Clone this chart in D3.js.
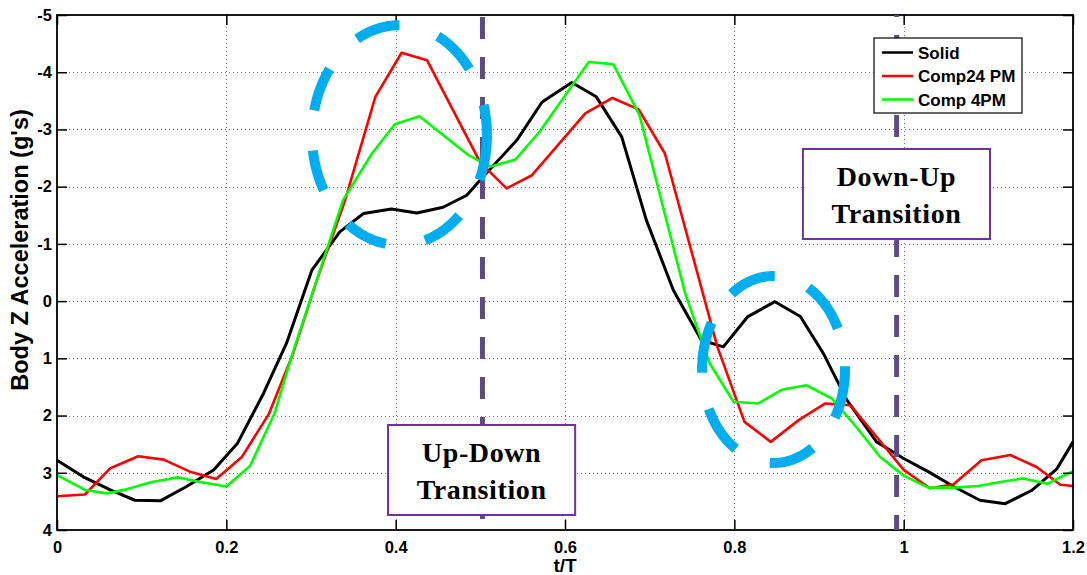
<!DOCTYPE html>
<html>
<head>
<meta charset="utf-8">
<script src="https://cdn.jsdelivr.net/npm/d3@7"></script>
<style>
  body { margin: 0; background: #fff; }
  svg { display: block; }
  text { font-family: "Liberation Sans", Arial, sans-serif; font-weight: bold; }
  text.note { font-family: "Liberation Serif", "Times New Roman", serif; }
</style>
</head>
<body>
<div id="chart"></div>
<script>
// Tick values
const xTicks = [0, 0.2, 0.4, 0.6, 0.8, 1, 1.2];
const yTicks = [-5, -4, -3, -2, -1, 0, 1, 2, 3, 4];

// Series (t/T, acceleration in g's)
const solidT = [0, 0.031, 0.063, 0.092, 0.122, 0.153, 0.185, 0.213, 0.244, 0.271, 0.301, 0.334, 0.362, 0.395, 0.425, 0.456, 0.484, 0.503, 0.543, 0.573, 0.608, 0.637, 0.667, 0.696, 0.728, 0.761, 0.787, 0.816, 0.848, 0.878, 0.905, 0.933, 0.968, 1.000, 1.029, 1.059, 1.090, 1.120, 1.151, 1.181, 1.200];
const solidV = [2.78, 3.07, 3.30, 3.48, 3.49, 3.24, 2.95, 2.49, 1.61, 0.74, -0.54, -1.21, -1.53, -1.61, -1.54, -1.64, -1.85, -2.17, -2.81, -3.48, -3.82, -3.57, -2.87, -1.42, -0.19, 0.68, 0.80, 0.27, 0.01, 0.27, 0.91, 1.73, 2.46, 2.75, 2.98, 3.24, 3.48, 3.54, 3.31, 2.93, 2.46];

const comp24T = [0, 0.033, 0.063, 0.096, 0.126, 0.157, 0.188, 0.218, 0.250, 0.279, 0.307, 0.340, 0.376, 0.407, 0.437, 0.500, 0.531, 0.561, 0.624, 0.656, 0.687, 0.718, 0.780, 0.812, 0.843, 0.876, 0.907, 0.937, 0.968, 1.000, 1.031, 1.059, 1.092, 1.126, 1.157, 1.185, 1.200];
const comp24V = [3.41, 3.38, 2.92, 2.71, 2.77, 2.98, 3.11, 2.73, 1.98, 0.91, -0.37, -1.75, -3.57, -4.34, -4.21, -2.42, -1.97, -2.20, -3.28, -3.55, -3.35, -2.58, 0.80, 2.11, 2.46, 2.08, 1.79, 1.82, 2.37, 2.95, 3.27, 3.20, 2.78, 2.69, 2.90, 3.21, 3.23];

const comp4T = [0, 0.033, 0.059, 0.082, 0.112, 0.143, 0.169, 0.200, 0.228, 0.257, 0.277, 0.338, 0.372, 0.399, 0.428, 0.486, 0.511, 0.541, 0.570, 0.628, 0.657, 0.688, 0.742, 0.771, 0.799, 0.828, 0.856, 0.885, 0.915, 0.944, 0.972, 1.000, 1.029, 1.059, 1.088, 1.114, 1.141, 1.170, 1.200];
const comp4V = [3.04, 3.30, 3.36, 3.29, 3.16, 3.08, 3.16, 3.24, 2.88, 1.96, 0.97, -1.77, -2.58, -3.09, -3.23, -2.55, -2.35, -2.47, -2.96, -4.18, -4.14, -3.25, -0.13, 1.09, 1.76, 1.79, 1.55, 1.47, 1.70, 2.20, 2.72, 3.05, 3.26, 3.26, 3.23, 3.16, 3.10, 3.19, 2.97];

const seriesNames = ["Solid", "Comp24 PM", "Comp 4PM"];
const seriesColors = ["#000000", "#ff0000", "#00ff00"];

// Transition markers (t/T) and annotation text
const transitionT = [0.5025, 0.9917];
const notes = [
  { lines: ["Up-Down", "Transition"], t: [0.391, 0.612], v: [2.165, 3.738] },
  { lines: ["Down-Up", "Transition"], t: [0.881, 1.102], v: [-2.658, -1.085] }
];

// Highlight ellipses: centre/radii in data units, dash arcs in degrees
const highlights = [
  { ct: 0.4045, cv: -2.90, rt: 0.1033, rv: 1.922,
    arcs: [[-16, 24], [47, 73], [99, 126], [150, 172], [193, 217], [241, 270], [296, 323]] },
  { ct: 0.8463, cv: 1.195, rt: 0.0844, rv: 1.634,
    arcs: [[-2, 31], [57, 93], [122, 155], [178, 210], [234, 271], [299, 334]] }
];

const width = 1087, height = 575;
const svg = d3.select("#chart").append("svg")
  .attr("width", width)
  .attr("height", height);

const x = d3.scaleLinear().domain([0, 1.2]).range([57, 1073]);
const y = d3.scaleLinear().domain([-5, 4]).range([15, 530]);

// dotted grid
const grid = svg.append("g").attr("stroke", "#777").attr("stroke-width", 1).attr("stroke-dasharray", "1,3");
grid.selectAll(".gx").data(xTicks.slice(1, -1)).join("line")
  .attr("x1", d => Math.round(x(d)) + 0.5).attr("x2", d => Math.round(x(d)) + 0.5)
  .attr("y1", y(-5)).attr("y2", y(4));
grid.selectAll(".gy").data(yTicks.slice(1, -1)).join("line")
  .attr("y1", d => Math.round(y(d)) + 0.5).attr("y2", d => Math.round(y(d)) + 0.5)
  .attr("x1", x(0)).attr("x2", x(1.2));

// data lines
const line = d3.line().x(d => x(d[0])).y(d => y(d[1]));
const series = [
  d3.zip(solidT, solidV),
  d3.zip(comp24T, comp24V),
  d3.zip(comp4T, comp4V)
];
svg.append("g").selectAll("path").data(series).join("path")
  .attr("d", line)
  .attr("fill", "none")
  .attr("stroke", (d, i) => seriesColors[i])
  .attr("stroke-width", (d, i) => i === 0 ? 3 : 2.6)
  .attr("stroke-linejoin", "round");

// axes (ticks pointing inward, box drawn separately)
function styleAxis(g) {
  g.select(".domain").remove();
  g.selectAll("line").attr("stroke", "#000").attr("stroke-width", 1.5);
  g.selectAll("text").attr("font-size", 16.5).attr("fill", "#000");
}
svg.append("g").attr("transform", `translate(0,${y(4)})`)
  .call(d3.axisBottom(x).tickValues(xTicks).tickSize(-10).tickPadding(11).tickFormat(d => String(d)))
  .call(styleAxis);
svg.append("g").attr("transform", `translate(0,${y(-5)})`)
  .call(d3.axisTop(x).tickValues(xTicks).tickSize(-10).tickFormat(""))
  .call(styleAxis);
svg.append("g").attr("transform", `translate(${x(0)},0)`)
  .call(d3.axisLeft(y).tickValues(yTicks).tickSize(-10).tickPadding(5).tickFormat(d => String(d)))
  .call(styleAxis);
svg.append("g").attr("transform", `translate(${x(1.2)},0)`)
  .call(d3.axisRight(y).tickValues(yTicks).tickSize(-10).tickFormat(""))
  .call(styleAxis);

svg.append("rect")
  .attr("x", x(0)).attr("y", y(-5))
  .attr("width", x(1.2) - x(0)).attr("height", y(4) - y(-5))
  .attr("fill", "none").attr("stroke", "#000").attr("stroke-width", 1.8);

// axis titles
svg.append("text")
  .attr("x", (x(0) + x(1.2)) / 2).attr("y", 572)
  .attr("text-anchor", "middle").attr("font-size", 19)
  .text("t/T");
svg.append("text")
  .attr("transform", `translate(28,250) rotate(-90)`)
  .attr("text-anchor", "middle").attr("font-size", 23.5)
  .text("Body Z Acceleration (g's)");

// vertical transition markers
svg.append("g").selectAll("line").data(transitionT).join("line")
  .attr("x1", d => x(d)).attr("x2", d => x(d))
  .attr("y1", y(-5)).attr("y2", y(4))
  .attr("stroke", "#5e4b80").attr("stroke-width", 5)
  .attr("stroke-dasharray", "22,18")
  .attr("stroke-dashoffset", (d, i) => i === 0 ? 38 : 20);

// dashed highlight ellipses
const arcLine = d3.line();
highlights.forEach(h => {
  const cx = x(h.ct), cy = y(h.cv);
  const rx = x(h.ct + h.rt) - cx, ry = y(h.cv + h.rv) - cy;
  svg.append("g").selectAll("path").data(h.arcs).join("path")
    .attr("d", a => arcLine(d3.range(a[0], a[1] + 0.5, 1).map(deg => {
      const r = deg * Math.PI / 180;
      return [cx + rx * Math.cos(r), cy + ry * Math.sin(r)];
    })))
    .attr("fill", "none")
    .attr("stroke", "#00aeef")
    .attr("stroke-width", 10);
});

// annotation boxes
notes.forEach(n => {
  const x0 = x(n.t[0]), x1 = x(n.t[1]);
  const y0 = y(n.v[0]), y1 = y(n.v[1]);
  const top = Math.min(y0, y1), h = Math.abs(y1 - y0);
  svg.append("rect")
    .attr("x", x0).attr("y", top).attr("width", x1 - x0).attr("height", h)
    .attr("fill", "#fff").attr("stroke", "#7030a0").attr("stroke-width", 2);
  const cxm = (x0 + x1) / 2, cym = top + h / 2;
  n.lines.forEach((s, i) => {
    svg.append("text")
      .attr("class", "note")
      .attr("x", cxm).attr("y", cym + (i - 0.5) * 37 + 10)
      .attr("text-anchor", "middle")
      .attr("font-size", 28)
      .attr("letter-spacing", 0.6)
      .text(s);
  });
});

// legend
const legend = svg.append("g").attr("transform", "translate(874,38)");
legend.append("rect")
  .attr("width", 148).attr("height", 75)
  .attr("fill", "#fff").attr("stroke", "#000").attr("stroke-width", 1.2);
const rows = legend.selectAll(".row").data(seriesNames).join("g")
  .attr("transform", (d, i) => `translate(0,${14.5 + i * 23.5})`);
rows.append("line")
  .attr("x1", 8).attr("x2", 39)
  .attr("stroke", (d, i) => seriesColors[i]).attr("stroke-width", 2.5);
rows.append("text")
  .attr("x", 44).attr("y", 6)
  .attr("font-size", 17)
  .text(d => d);
</script>
</body>
</html>
